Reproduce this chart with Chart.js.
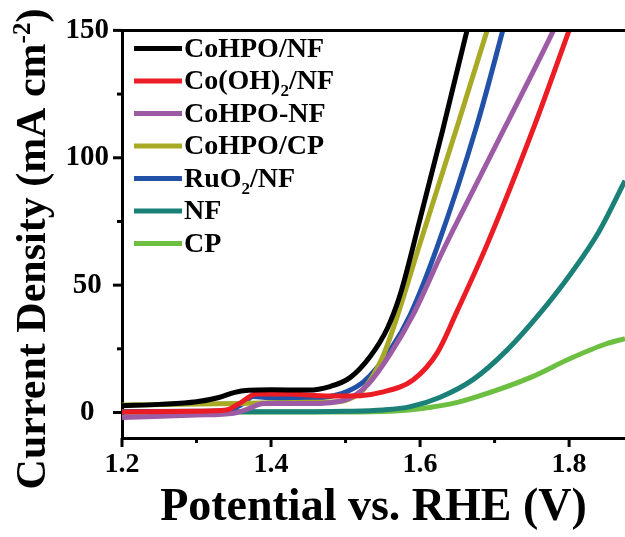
<!DOCTYPE html>
<html><head><meta charset="utf-8">
<script src="https://cdn.jsdelivr.net/npm/chart.js@4"></script>
<style>html,body{margin:0;padding:0;background:#fff;}#wrap{width:625px;height:537px;}</style>
</head><body><div id="wrap"><canvas id="c" width="625" height="537"></canvas></div>
<script>
// ---- data (potential V vs RHE, current density mA cm^-2) ----
const seriesLabels = ['CoHPO/NF', 'Co(OH)₂/NF', 'CoHPO-NF', 'CoHPO/CP', 'RuO₂/NF', 'NF', 'CP'];
const seriesColors = ['#000000', '#ec1c24', '#9d5ba6', '#a8aa26', '#2251a8', '#1a8078', '#6dbf42'];

const coHpoNfV = [1.2, 1.25, 1.30, 1.33, 1.35, 1.37, 1.40, 1.45, 1.479, 1.506, 1.533, 1.556, 1.573, 1.60, 1.63, 1.663, 1.67];
const coHpoNfJ = [2.7, 3.2, 4.2, 5.9, 7.8, 8.7, 8.9, 8.8, 10.2, 13.7, 22, 33, 46, 76, 110.5, 150, 158];

const coOhNfV = [1.2, 1.3, 1.34, 1.36, 1.38, 1.42, 1.479, 1.52, 1.546, 1.591, 1.623, 1.65, 1.69, 1.754, 1.80, 1.81];
const coOhNfJ = [0.2, 0.5, 1.0, 4.0, 7.3, 7.3, 6.5, 6.6, 7.8, 12.9, 23.4, 40, 66, 113, 150, 158];

const coHpoDashNfV = [1.2, 1.3, 1.35, 1.37, 1.39, 1.45, 1.50, 1.53, 1.56, 1.59, 1.631, 1.67, 1.714, 1.779, 1.79];
const coHpoDashNfJ = [-2.0, -1.0, -0.3, 1.5, 3.5, 3.5, 5.0, 11, 23, 38, 63.7, 86.5, 112, 150, 157];

const coHpoCpV = [1.2, 1.3, 1.4, 1.45, 1.489, 1.51, 1.524, 1.55, 1.573, 1.597, 1.65, 1.69, 1.70];
const coHpoCpJ = [3.0, 3.3, 3.8, 4.0, 4.2, 6.0, 9.0, 22, 41, 63.7, 112.5, 150, 159];

const ruO2NfV = [1.2, 1.3, 1.34, 1.36, 1.376, 1.40, 1.45, 1.479, 1.50, 1.524, 1.56, 1.587, 1.623, 1.6765, 1.711, 1.72];
const ruO2NfJ = [0.3, 0.5, 0.8, 3.0, 6.3, 5.7, 5.5, 6.3, 8.0, 12, 24.6, 38.5, 65, 113, 150, 160];

const nfV = [1.2, 1.4, 1.5, 1.55, 1.587, 1.627, 1.671, 1.717, 1.761, 1.801, 1.84, 1.875];
const nfJ = [0.3, 0.3, 0.5, 1.0, 2.3, 6.0, 12.9, 24.6, 39, 54, 71, 91];

const cpV = [1.2, 1.5, 1.56, 1.60, 1.65, 1.70, 1.75, 1.80, 1.85, 1.875];
const cpJ = [0.2, 0.2, 0.5, 1.5, 4.0, 8.5, 14, 21, 27, 29];

const xTickValues = [1.2, 1.3, 1.4, 1.5, 1.6, 1.7, 1.8];
const xTickLabels = ['1.2', '', '1.4', '', '1.6', '', '1.8'];
const yTickValues = [0, 25, 50, 75, 100, 125, 150];
const yTickLabels = ['0', '', '50', '', '100', '', '150'];

const xTitle = 'Potential vs. RHE (V)';
const yTitleMain = 'Current Density (mA cm';
const yTitleSup = '-2';
const yTitleEnd = ')';

const FONT = "'Liberation Serif', 'Times New Roman', 'DejaVu Serif', serif";

const seriesV = [coHpoNfV, coOhNfV, coHpoDashNfV, coHpoCpV, ruO2NfV, nfV, cpV];
const seriesJ = [coHpoNfJ, coOhNfJ, coHpoDashNfJ, coHpoCpJ, ruO2NfJ, nfJ, cpJ];

const datasets = seriesLabels.map((lab, i) => ({
  label: lab,
  data: seriesV[i].map((v, k) => ({x: v, y: seriesJ[i][k]})),
  borderColor: seriesColors[i],
  backgroundColor: seriesColors[i],
  borderWidth: 5,
  pointRadius: 0,
  showLine: true,
  cubicInterpolationMode: 'monotone',
  clip: 0
}));

const frameAndTicks = {
  id: 'frameAndTicks',
  afterDraw(chart) {
    const {ctx, chartArea: a, scales: {x, y}} = chart;
    ctx.save();
    ctx.strokeStyle = '#000';
    ctx.lineWidth = 3;
    x.ticks.forEach((t, i) => {
      const px = x.getPixelForValue(t.value);
      const len = xTickLabels[i] ? 9 : 5;
      ctx.beginPath(); ctx.moveTo(px, a.bottom); ctx.lineTo(px, a.bottom + len); ctx.stroke();
    });
    y.ticks.forEach((t, i) => {
      const py = y.getPixelForValue(t.value);
      const len = yTickLabels[i] ? 9 : 5;
      ctx.beginPath(); ctx.moveTo(a.left, py); ctx.lineTo(a.left - len, py); ctx.stroke();
    });
    ctx.beginPath(); ctx.moveTo(a.left - 1.5, a.top); ctx.lineTo(a.right, a.top); ctx.stroke();

    // y-axis title with superscript
    ctx.fillStyle = '#000';
    ctx.textBaseline = 'alphabetic';
    ctx.textAlign = 'left';
    const big = 'bold 42px ' + FONT, small = 'bold 25px ' + FONT;
    ctx.font = big; const w1 = ctx.measureText(yTitleMain).width; const w3 = ctx.measureText(yTitleEnd).width;
    ctx.font = small; const w2 = ctx.measureText(yTitleSup).width;
    const total = w1 + w2 + w3;
    ctx.translate(45, 249);
    ctx.rotate(-Math.PI / 2);
    let tx = -total / 2;
    ctx.font = big; ctx.fillText(yTitleMain, tx, 0); tx += w1;
    ctx.font = small; ctx.fillText(yTitleSup, tx, -15); tx += w2;
    ctx.font = big; ctx.fillText(yTitleEnd, tx, 0);
    ctx.restore();
  }
};

const inlineLegend = {
  id: 'inlineLegend',
  afterDatasetsDraw(chart) {
    const {ctx, chartArea: a} = chart;
    ctx.save();
    chart.data.datasets.forEach((ds, i) => {
      const yc = a.top + 18 + i * 32.5;
      const x0 = a.left + 12;
      ctx.strokeStyle = ds.borderColor;
      ctx.lineWidth = 5;
      ctx.beginPath(); ctx.moveTo(x0, yc); ctx.lineTo(x0 + 48, yc); ctx.stroke();
      let tx = x0 + 50;
      ctx.fillStyle = '#000';
      ctx.textAlign = 'left';
      ctx.textBaseline = 'middle';
      const parts = ds.label.split('₂');
      parts.forEach((p, k) => {
        ctx.font = 'bold 28px ' + FONT;
        ctx.fillText(p, tx, yc + 1);
        tx += ctx.measureText(p).width;
        if (k < parts.length - 1) {
          ctx.font = 'bold 17px ' + FONT;
          ctx.fillText('2', tx, yc + 11);
          tx += ctx.measureText('2').width;
        }
      });
    });
    ctx.restore();
  }
};

new Chart(document.getElementById('c'), {
  type: 'scatter',
  data: {datasets},
  options: {
    responsive: false,
    animation: false,
    devicePixelRatio: 1,
    layout: {padding: {top: 29, right: 0, bottom: 0, left: 0}},
    plugins: {legend: {display: false}, tooltip: {enabled: false}},
    scales: {
      x: {
        type: 'linear', min: 1.2, max: 1.875,
        afterBuildTicks: s => { s.ticks = xTickValues.map(v => ({value: v})); },
        afterFit: s => { s.height = 99; },
        grid: {display: false, drawTicks: false},
        border: {display: true, color: '#000', width: 3},
        ticks: {
          autoSkip: false, maxRotation: 0, padding: 10, color: '#000',
          font: {family: FONT, size: 28, weight: 'bold'},
          callback: (v, i) => xTickLabels[i]
        },
        title: {display: true, text: xTitle, color: '#000', padding: {top: 0, bottom: 1},
          font: {family: FONT, size: 46, weight: 'bold'}}
      },
      y: {
        type: 'linear', min: -10, max: 150,
        afterBuildTicks: s => { s.ticks = yTickValues.map(v => ({value: v})); },
        afterFit: s => { s.width = 122; },
        grid: {display: false, drawTicks: false},
        border: {display: true, color: '#000', width: 3},
        ticks: {
          autoSkip: false, padding: 13, crossAlign: 'center', color: '#000',
          font: {family: FONT, size: 29, weight: 'bold'},
          callback: (v, i) => yTickLabels[i]
        },
        title: {display: false}
      }
    }
  },
  plugins: [frameAndTicks, inlineLegend]
});
</script>
</body></html>
